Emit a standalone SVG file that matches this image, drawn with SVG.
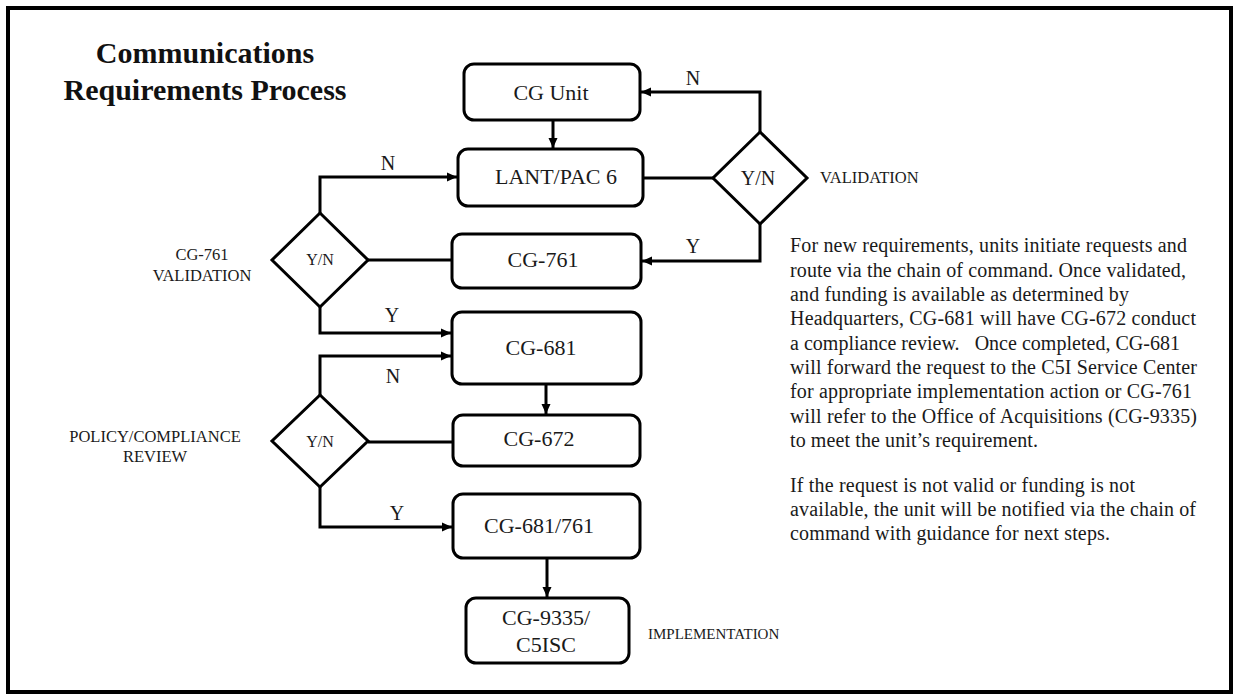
<svg xmlns="http://www.w3.org/2000/svg" width="1233" height="694" viewBox="0 0 1233 694">
<style>
  .box { fill: #fff; stroke: #000; stroke-width: 3; }
  .dia { fill: #fff; stroke: #000; stroke-width: 3; }
  .ln { fill: none; stroke: #000; stroke-width: 3; }
  .arr { marker-end: url(#ah); }
  .t { font-family: "Liberation Serif", "Times New Roman", serif; fill: #1a1a1a; }
  .bx { font-size: 22px; text-anchor: middle; }
  .yn { font-size: 16px; text-anchor: middle; }
  .lbl { font-size: 20px; text-anchor: middle; }
  .side { font-size: 16.5px; }
  .para { font-size: 20px; }
  .title { font-size: 30px; font-weight: bold; text-anchor: middle; fill: #111; }
</style>
<defs>
  <marker id="ah" markerUnits="userSpaceOnUse" markerWidth="10" markerHeight="10" refX="10" refY="5" orient="auto">
    <path d="M0,0.5 L10,5 L0,9.5 z" fill="#000"/>
  </marker>
</defs>
<rect x="0" y="0" width="1233" height="694" fill="#fff"/>
<rect x="8" y="8" width="1223" height="684" fill="none" stroke="#000" stroke-width="4"/>

<g id="title">
  <text class="t title" x="205" y="63">Communications</text>
  <text class="t title" x="205" y="100">Requirements Process</text>
</g>

<g id="connectors">
  <line class="ln arr" x1="553" y1="120" x2="553" y2="148"/>
  <line class="ln" x1="643" y1="178" x2="713" y2="178"/>
  <polyline class="ln arr" points="760,132 760,92 641,92"/>
  <polyline class="ln arr" points="760,224 760,261 642,261"/>
  <line class="ln" x1="452" y1="260" x2="368" y2="260"/>
  <polyline class="ln arr" points="320,213 320,177 457,177"/>
  <polyline class="ln arr" points="320,307 320,333 451,333"/>
  <line class="ln arr" x1="546" y1="384" x2="546" y2="414"/>
  <line class="ln" x1="453" y1="442" x2="368" y2="442"/>
  <polyline class="ln arr" points="320,395 320,356 451,356"/>
  <polyline class="ln arr" points="320,487 320,527 452,527"/>
  <line class="ln arr" x1="547" y1="558" x2="547" y2="597"/>
  <text class="t lbl" x="693" y="85">N</text>
  <text class="t lbl" x="693" y="253">Y</text>
  <text class="t lbl" x="388" y="170">N</text>
  <text class="t lbl" x="392" y="322">Y</text>
  <text class="t lbl" x="393" y="383">N</text>
  <text class="t lbl" x="397" y="520">Y</text>
</g>

<g id="cg-unit">
  <rect class="box" x="464" y="64" width="176" height="56" rx="10"/>
  <text class="t bx" x="551" y="100">CG Unit</text>
</g>
<g id="lant-pac6">
  <rect class="box" x="458" y="149" width="185" height="57" rx="10"/>
  <text class="t bx" x="556" y="184">LANT/PAC 6</text>
</g>
<g id="validation-decision">
  <polygon class="dia" points="760,132 807,178 760,224 713,178"/>
  <text class="t" x="758" y="185" font-size="20" text-anchor="middle">Y/N</text>
  <text class="t side" x="820" y="183">VALIDATION</text>
</g>
<g id="cg-761">
  <rect class="box" x="452" y="234" width="189" height="54" rx="10"/>
  <text class="t bx" x="543" y="267">CG-761</text>
</g>
<g id="cg761-validation-decision">
  <polygon class="dia" points="320,213 368,260 320,307 272,260"/>
  <text class="t yn" x="320" y="265">Y/N</text>
  <text class="t side" x="202" y="260" text-anchor="middle">CG-761</text>
  <text class="t side" x="202" y="281" text-anchor="middle">VALIDATION</text>
</g>
<g id="cg-681">
  <rect class="box" x="452" y="312" width="189" height="72" rx="10"/>
  <text class="t bx" x="541" y="355">CG-681</text>
</g>
<g id="cg-672">
  <rect class="box" x="453" y="415" width="187" height="51" rx="10"/>
  <text class="t bx" x="539" y="446">CG-672</text>
</g>
<g id="policy-decision">
  <polygon class="dia" points="320,395 368,441 320,487 272,441"/>
  <text class="t yn" x="320" y="447">Y/N</text>
  <text class="t side" x="155" y="442" text-anchor="middle">POLICY/COMPLIANCE</text>
  <text class="t side" x="155" y="462" text-anchor="middle">REVIEW</text>
</g>
<g id="cg-681-761">
  <rect class="box" x="453" y="494" width="187" height="64" rx="10"/>
  <text class="t bx" x="539" y="533">CG-681/761</text>
</g>
<g id="cg-9335-c5isc">
  <rect class="box" x="466" y="598" width="163" height="65" rx="10"/>
  <text class="t bx" x="546" y="625">CG-9335/</text>
  <text class="t bx" x="546" y="652">C5ISC</text>
  <text class="t" x="648" y="639" font-size="15">IMPLEMENTATION</text>
</g>

<g id="description">
  <text class="t para" x="790" y="252" textLength="397">For new requirements, units initiate requests and</text>
  <text class="t para" x="790" y="276.5" textLength="396">route via the chain of command. Once validated,</text>
  <text class="t para" x="790" y="301" textLength="339">and funding is available as determined by</text>
  <text class="t para" x="790" y="325" textLength="406">Headquarters, CG-681 will have CG-672 conduct</text>
  <text class="t para" x="790" y="349.5" textLength="390" xml:space="preserve">a compliance review.   Once completed, CG-681</text>
  <text class="t para" x="790" y="374" textLength="407">will forward the request to the C5I Service Center</text>
  <text class="t para" x="790" y="398" textLength="402">for appropriate implementation action or CG-761</text>
  <text class="t para" x="790" y="422.5" textLength="407">will refer to the Office  of Acquisitions (CG-9335)</text>
  <text class="t para" x="790" y="447" textLength="248">to meet the unit’s requirement.</text>
  <text class="t para" x="790" y="491.5" textLength="345">If the request is not valid or funding is not</text>
  <text class="t para" x="790" y="516" textLength="406">available, the unit will be notified via the chain of</text>
  <text class="t para" x="790" y="540" textLength="320">command with guidance for next steps.</text>
</g>
</svg>
